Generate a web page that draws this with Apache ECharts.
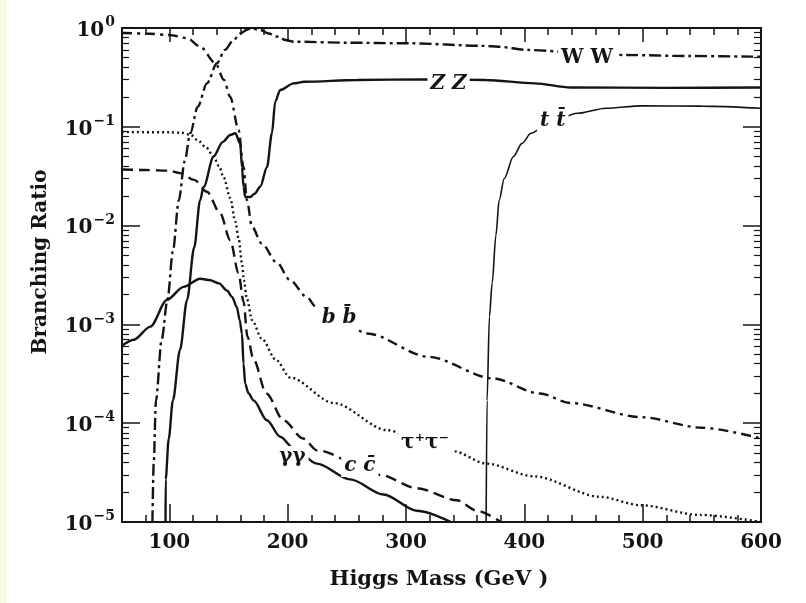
<!DOCTYPE html>
<html><head><meta charset="utf-8">
<script src="https://cdn.jsdelivr.net/npm/echarts@6/dist/echarts.min.js"></script>
<style>html,body{margin:0;padding:0;background:#fff}#c{width:806px;height:603px}</style>
</head><body><div id="c"></div>
<script>
// Axis definitions
const massMin = 60, massMax = 600;
const xTickLabels = [100, 200, 300, 400, 500, 600];
const brMin = 1e-5, brMax = 1;

// Branching ratios vs Higgs mass (GeV)
const bbbar = [[60,0.89],[80,0.88],[100,0.85],[115,0.79],[126,0.65],[139,0.44],[146,0.30],[151.5,0.20],[158.5,0.093],[162.7,0.039],[165.6,0.018],[169.8,0.0098],[178,0.0066],[191,0.0042],[202,0.0028],[216,0.0019],[224,0.0015],[245,0.0011],[267,8.1e-4],[319,4.7e-4],[373,2.85e-4],[413,2.0e-4],[439,1.6e-4],[499,1.15e-4],[550,9e-5],[600,7e-5]];
const tautau = [[60,0.0885],[100,0.088],[110,0.087],[118,0.083],[124,0.073],[131,0.062],[137.4,0.05],[142,0.04],[145.8,0.031],[151.5,0.019],[155.7,0.011],[158.5,0.0075],[161.4,0.0042],[163,0.0028],[165.6,0.0018],[170,0.0011],[178,7.2e-4],[190,4.4e-4],[202,2.9e-4],[239,1.6e-4],[284,8.5e-5],[316,6.3e-5],[340,5.2e-5],[368,3.9e-5],[408,2.9e-5],[464,1.8e-5],[498,1.48e-5],[548,1.18e-5],[600,1.0e-5]];
const ccbar = [[60,0.037],[80,0.0365],[100,0.036],[109,0.034],[121,0.029],[131.8,0.022],[143,0.0133],[151.5,0.0071],[158.5,0.0033],[162.7,0.0017],[166,7.5e-4],[171.2,4.4e-4],[182,2e-4],[196.5,1.07e-4],[213,7e-5],[225,5.3e-5],[278,3e-5],[309,2.2e-5],[343,1.66e-5],[360,1.3e-5],[380,1e-5]];
const gamgam = [[60,6.1e-4],[70,7e-4],[84,9.5e-4],[98,1.77e-3],[112,2.4e-3],[126,2.9e-3],[134.6,2.8e-3],[142,2.6e-3],[148.7,2.2e-3],[153,1.9e-3],[157,1.5e-3],[159.5,1.1e-3],[161.4,8e-4],[162.7,4e-4],[164.1,2.5e-4],[167,2e-4],[171.2,1.7e-4],[182.5,1.07e-4],[193.7,7.3e-5],[205,5.6e-5],[224.7,3.9e-5],[252.8,2.7e-5],[281,1.9e-5],[309,1.3e-5],[338,1e-5]];
const wwData = [[85.7,1e-5],[86.8,4e-5],[88.7,1.7e-4],[93.5,7e-4],[98.5,1.8e-3],[103,5.5e-3],[108,0.018],[113,0.045],[117.7,0.086],[124,0.16],[131.8,0.275],[140.2,0.44],[147,0.60],[154.3,0.756],[160,0.88],[165.6,0.96],[168.4,0.99],[176.8,0.955],[184,0.88],[191,0.82],[198.4,0.756],[205,0.727],[250,0.71],[303,0.70],[365,0.66],[378,0.647],[402,0.60],[450,0.56],[486,0.533],[540,0.52],[600,0.512]];
const zzData = [[96.8,1e-5],[96.9,2.7e-5],[99.5,7e-5],[103,1.7e-4],[109,5.5e-4],[115,1.77e-3],[121,6e-3],[126,0.018],[129,0.0247],[137.4,0.05],[145,0.07],[151.5,0.0826],[155.7,0.086],[159.9,0.068],[161.4,0.039],[162.7,0.0247],[164.1,0.0195],[168.4,0.0195],[172,0.021],[176.8,0.0247],[182.5,0.039],[186.7,0.086],[189.5,0.18],[193.7,0.236],[205,0.275],[214,0.286],[259,0.298],[313,0.302],[367,0.298],[409,0.275],[439,0.25],[520,0.248],[600,0.25]];
const ttbar = [[367.7,1e-5],[368.5,1.7e-4],[370.5,1.2e-3],[372.8,2.6e-3],[376,8e-3],[378.7,0.018],[383,0.03],[390.8,0.05],[398,0.068],[405.7,0.086],[420,0.108],[445,0.137],[469,0.154],[499,0.163],[550,0.162],[600,0.154]];

// Curve annotations: [mass, BR, text, style]
const curveLabels = [
  [453, 0.503, 'W W', 'normal'],
  [336, 0.271, 'Z Z', 'italic'],
  [424, 0.1145, 't t\u0304', 'italic'],
  [243.5, 1.16e-3, 'b b\u0304', 'italic'],
  [316, 6.3e-5, '\u03c4\u207a\u03c4\u207b', 'normal'],
  [204, 4.55e-5, '\u03b3\u03b3', 'normal'],
  [261, 3.69e-5, 'c c\u0304', 'italic']
];

const FONT = "'DejaVu Serif','Liberation Serif',serif";
const INK = '#141414';
const CLEAR = 'rgba(0,0,0,0)';

const yMinor = [];
for (let e = -5; e <= -1; e++) for (let k = 2; k <= 9; k++) yMinor.push(e + Math.log10(k));

const chart = echarts.init(document.getElementById('c'), null, {renderer: 'canvas'});

function line(name, data, type, width) {
  return {
    type: 'line', name: name, data: data, symbol: 'none', showSymbol: false,
    smooth: 0.3, smoothMonotone: 'x', xAxisIndex: 0, yAxisIndex: 0, silent: true,
    lineStyle: {color: INK, width: width || 2.4, type: type, cap: 'butt'}, z: 3
  };
}

const supLabel = v => {
  const e = Math.round(Math.log10(v));
  const s = e === 0 ? '0' : '\u2212' + Math.abs(e);
  return '{b|10}{s|' + s + '}';
};

function xAx(pos, lineShown, tick, extra) {
  return Object.assign({
    type: 'value', min: massMin, max: massMax, position: pos, splitLine: {show: false},
    axisLine: {show: true, onZero: false, lineStyle: {color: lineShown ? INK : CLEAR, width: 2}},
    axisTick: Object.assign({show: true, inside: true, lineStyle: {color: INK, width: 1.5}}, tick),
    axisLabel: {show: false}
  }, extra || {});
}
function yMinorAx(pos) {
  return {type: 'value', min: -5, max: 0, position: pos, splitLine: {show: false},
    axisLine: {show: true, onZero: false, lineStyle: {color: CLEAR, width: 2}}, axisLabel: {show: false},
    axisTick: {show: true, inside: true, length: 7, customValues: yMinor, lineStyle: {color: INK, width: 1.2}}};
}

const option = {
  animation: false,
  backgroundColor: '#ffffff',
  grid: {left: 122, right: 45, top: 28, bottom: 81, containLabel: false},
  xAxis: [
    xAx('bottom', true, {length: 18, customValues: xTickLabels},
      {axisLabel: {show: true, customValues: xTickLabels, margin: 11, color: INK, fontFamily: FONT, fontSize: 20, fontWeight: 'bold'}}),
    xAx('bottom', false, {length: 7}, {interval: 20}),
    xAx('top', true, {length: 14, customValues: xTickLabels}),
    xAx('top', false, {length: 7}, {interval: 20})
  ],
  yAxis: [
    {type: 'log', logBase: 10, min: brMin, max: brMax, position: 'left', splitLine: {show: false},
      axisLine: {show: true, onZero: false, lineStyle: {color: INK, width: 2}},
      axisTick: {show: true, inside: true, length: 18, lineStyle: {color: INK, width: 1.5}},
      axisLabel: {show: true, margin: 7, formatter: supLabel, showMinLabel: true, showMaxLabel: true,
        rich: {
          b: {fontFamily: FONT, fontSize: 20, fontWeight: 'bold', color: INK, verticalAlign: 'bottom'},
          s: {fontFamily: FONT, fontSize: 14, fontWeight: 'bold', color: INK, verticalAlign: 'bottom', padding: [0, 0, 11, 1]}
        }}},
    yMinorAx('left'),
    {type: 'log', logBase: 10, min: brMin, max: brMax, position: 'right', splitLine: {show: false},
      axisLine: {show: true, onZero: false, lineStyle: {color: INK, width: 2}},
      axisTick: {show: true, inside: true, length: 18, lineStyle: {color: INK, width: 1.5}},
      axisLabel: {show: false}},
    yMinorAx('right')
  ],
  series: [
    line('WW', wwData, [12, 4, 3, 4]),
    line('bb', bbbar, [10, 5, 3, 5]),
    line('ZZ', zzData, 'solid'),
    line('tt', ttbar, 'solid', 1.6),
    line('tautau', tautau, [2, 3]),
    line('cc', ccbar, [11, 6]),
    line('gamgam', gamgam, 'solid'),
    {
      type: 'scatter', xAxisIndex: 0, yAxisIndex: 0, silent: true, z: 10,
      symbolSize: 1, itemStyle: {color: '#ffffff', opacity: 1},
      data: curveLabels.map(l => ({
        value: [l[0], l[1]],
        label: {show: true, position: 'inside', formatter: l[2], fontFamily: FONT, fontSize: 20,
          fontWeight: 'bold', fontStyle: l[3], color: INK, opacity: 1, textBorderWidth: 0,
          backgroundColor: '#ffffff', padding: [1, 3]}
      }))
    }
  ],
  graphic: [
    {type: 'rect', left: 0, top: 0, shape: {x: 0, y: 0, width: 7, height: 603}, style: {fill: '#fafae4'}, silent: true},
    {type: 'text', x: 439, y: 580, style: {text: 'Higgs Mass (GeV )', font: 'bold 21px ' + FONT, fill: INK, textAlign: 'center', textVerticalAlign: 'middle'}},
    {type: 'text', x: 41, y: 262, rotation: Math.PI / 2, style: {text: 'Branching Ratio', font: 'bold 20px ' + FONT, fill: INK, textAlign: 'center', textVerticalAlign: 'middle'}}
  ]
};
chart.setOption(option);
</script>
</body></html>
